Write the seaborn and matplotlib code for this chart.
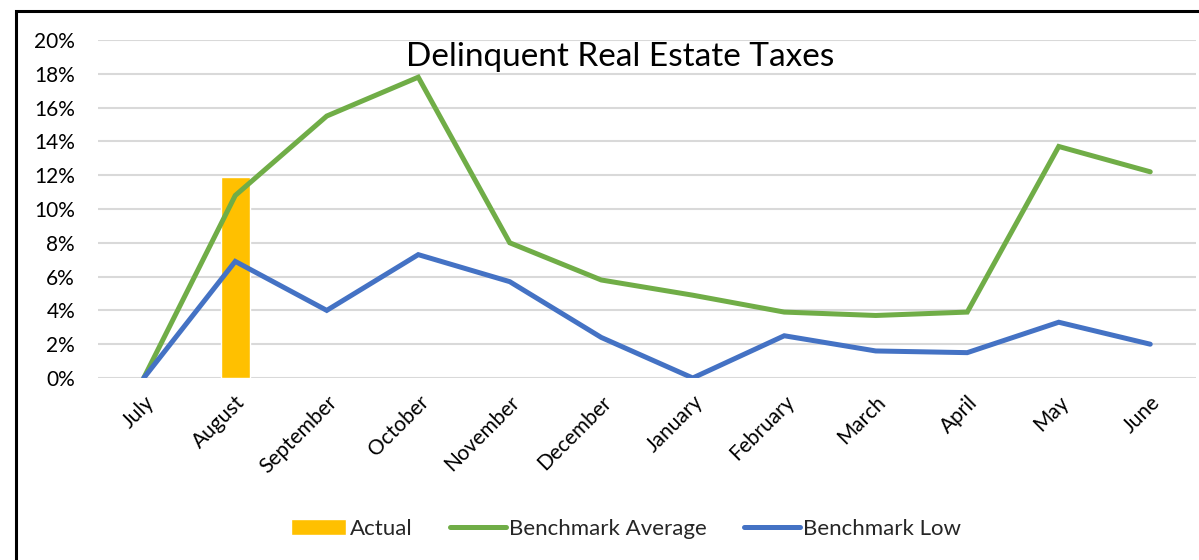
import numpy as np
import seaborn as sns
import matplotlib.pyplot as plt
from matplotlib.patches import Rectangle
from matplotlib.ticker import PercentFormatter

# Dados
months = ['July', 'August', 'September', 'October', 'November', 'December',
          'January', 'February', 'March', 'April', 'May', 'June']
benchmark_avg = [0.0, 0.108, 0.155, 0.178, 0.080, 0.058,
                 0.049, 0.039, 0.037, 0.039, 0.137, 0.122]
benchmark_low = [0.0, 0.069, 0.040, 0.073, 0.057, 0.024,
                 0.0, 0.025, 0.016, 0.015, 0.033, 0.020]
actual_months = ['August']
actual_values = [0.119]

sns.set_theme(style='white')
plt.rcParams['font.family'] = ['Lato', 'DejaVu Sans']

fig = plt.figure(figsize=(11.99, 5.6), dpi=100)
ax = fig.add_axes([98 / 1199, 1 - 378 / 560, 1098 / 1199, 338 / 560])

sns.barplot(x=actual_months, y=actual_values, order=months, color='#FFC000',
            width=0.32, saturation=1, label='Actual', ax=ax)
x = np.arange(len(months))
sns.lineplot(x=x, y=benchmark_avg, color='#70AD47', linewidth=3.6,
             label='Benchmark Average', ax=ax)
sns.lineplot(x=x, y=benchmark_low, color='#4472C4', linewidth=3.6,
             label='Benchmark Low', ax=ax)
for line in ax.get_lines():
    line.set_solid_capstyle('round')
    line.set_solid_joinstyle('miter')

ax.set_xlim(-0.5, len(months) - 0.5)
ax.set_ylim(0, 0.20)
ax.set_yticks(np.arange(0, 0.201, 0.02))
ax.yaxis.set_major_formatter(PercentFormatter(1.0, decimals=0))
ax.set_xticks(x)
ax.set_xticklabels(months, rotation=45, ha='right', rotation_mode='anchor')
ax.tick_params(axis='both', length=0, labelsize=15, colors='black')
ax.tick_params(axis='y', pad=16.5)
ax.tick_params(axis='x', pad=10)
ax.grid(axis='y', color='#d9d9d9', linewidth=1.5)
ax.set_axisbelow(True)
sns.despine(ax=ax, left=True, bottom=True)
ax.set_xlabel('')
ax.set_ylabel('')

fig.text(620 / 1199, 1 - 57 / 560, 'Delinquent Real Estate Taxes',
         ha='center', va='center', fontsize=24, color='black')

handles, labels = ax.get_legend_handles_labels()
ax.get_legend().remove()
order = [labels.index(l) for l in ['Actual', 'Benchmark Average', 'Benchmark Low']]
fig.legend([handles[i] for i in order], [labels[i] for i in order],
           loc='center', bbox_to_anchor=(626 / 1199, 1 - 529 / 560),
           ncol=3, frameon=False, fontsize=16, handlelength=2.5,
           handletextpad=0.15, columnspacing=1.7)

# Moldura preta
fig.add_artist(Rectangle((16 / 1199, -0.1), 1.2, 1.1 - 11 / 560,
                         transform=fig.transFigure, fill=False,
                         edgecolor='black', linewidth=2.2))

fig.savefig('out.png', dpi=100)
